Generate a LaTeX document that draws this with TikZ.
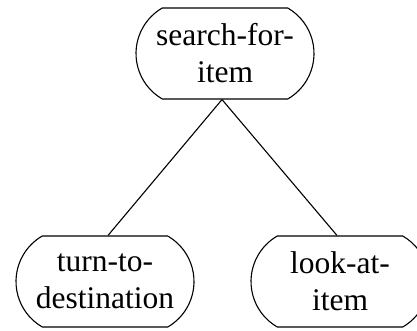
\documentclass[tikz,border=0pt]{standalone}
\usepackage{fontspec}
\setmainfont{Liberation Serif}
\usetikzlibrary{shapes.misc}
\begin{document}
\begin{tikzpicture}[x=1pt,y=-1pt,
  task/.style={draw, line width=1.1pt, rounded rectangle, rounded rectangle arc length=120,
    minimum width=178pt, minimum height=91pt, inner sep=0pt, align=center,
    font=\fontsize{31.5}{37}\selectfont},
  link/.style={line width=1.1pt}]
  \clip (0,0) rectangle (417,331);
  \node[task] (top) at (225,53.5) {search-for-\\item};
  \node[task] (bl) at (105,281.5) {turn-to-\\destination};
  \node[task] (br) at (340,281.5) {look-at-\\item};
  \draw[link] ([xshift=-3pt]top.south) -- ([xshift=3pt]bl.north);
  \draw[link] ([xshift=-3pt]top.south) -- ([xshift=-3pt]br.north);
\end{tikzpicture}
\end{document}
